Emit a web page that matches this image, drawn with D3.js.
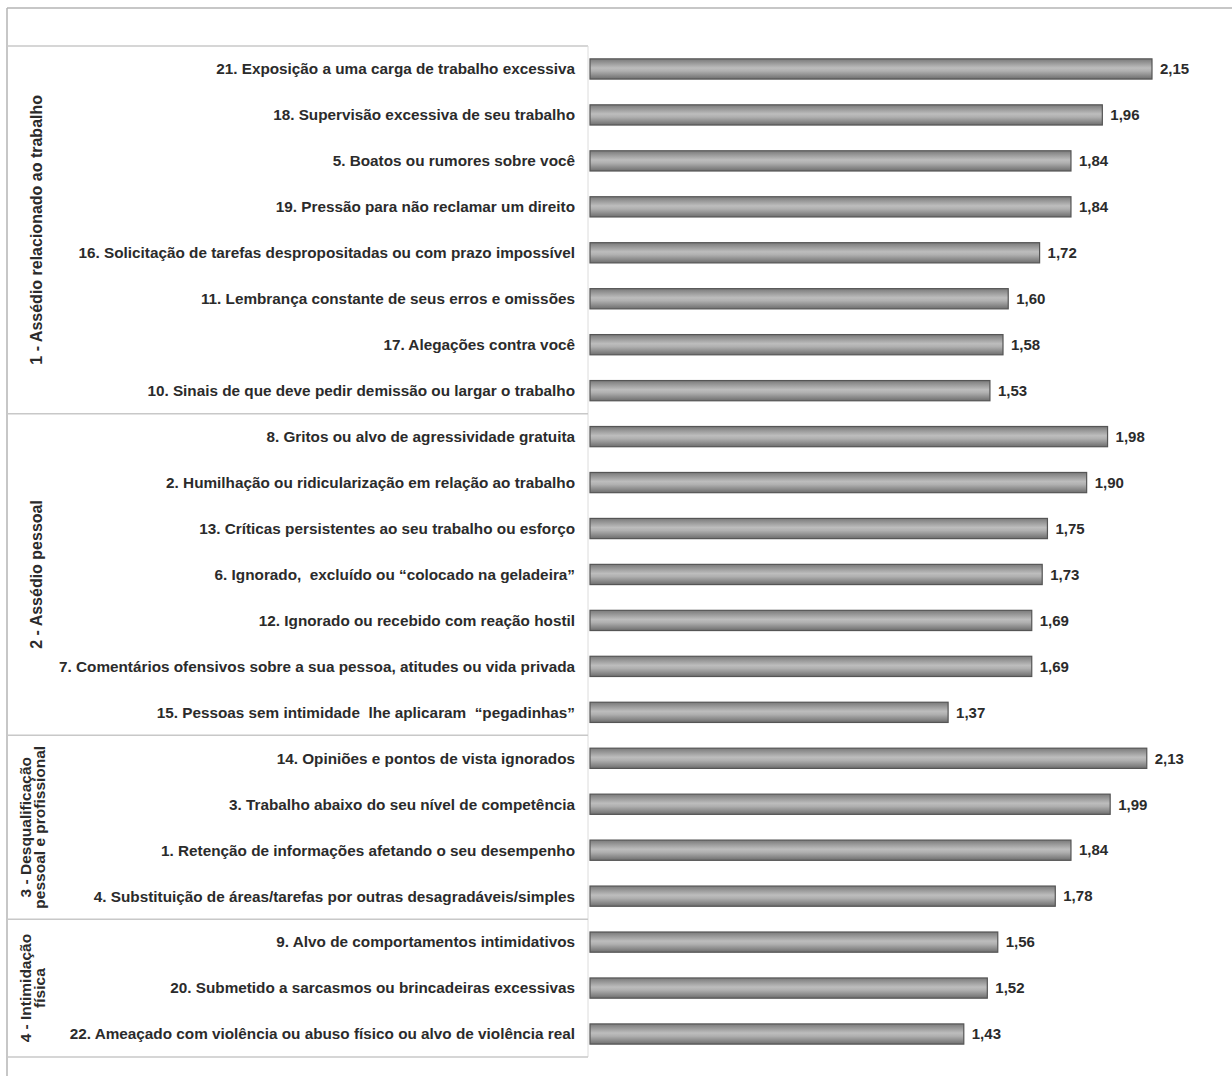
<!DOCTYPE html>
<html>
<head>
<meta charset="utf-8">
<script src="https://cdn.jsdelivr.net/npm/d3@7"></script>
<style>
  body { margin: 0; background: #fff; }
  text { font-family: "Liberation Sans Narrow", "Liberation Sans", Arial, sans-serif; font-weight: bold; fill: #2b2b2b; white-space: pre; }
</style>
</head>
<body>
<div id="chart"></div>
<script>
// itens, valores e grupos
const items = [
  "21. Exposição a uma carga de trabalho excessiva",
  "18. Supervisão excessiva de seu trabalho",
  "5. Boatos ou rumores sobre você",
  "19. Pressão para não reclamar um direito",
  "16. Solicitação de tarefas despropositadas ou com prazo impossível",
  "11. Lembrança constante de seus erros e omissões",
  "17. Alegações contra você",
  "10. Sinais de que deve pedir demissão ou largar o trabalho",
  "8. Gritos ou alvo de agressividade gratuita",
  "2. Humilhação ou ridicularização em relação ao trabalho",
  "13. Críticas persistentes ao seu trabalho ou esforço",
  "6. Ignorado,  excluído ou \u201Ccolocado na geladeira\u201D",
  "12. Ignorado ou recebido com reação hostil",
  "7. Comentários ofensivos sobre a sua pessoa, atitudes ou vida privada",
  "15. Pessoas sem intimidade  lhe aplicaram  \u201Cpegadinhas\u201D",
  "14. Opiniões e pontos de vista ignorados",
  "3. Trabalho abaixo do seu nível de competência",
  "1. Retenção de informações afetando o seu desempenho",
  "4. Substituição de áreas/tarefas por outras desagradáveis/simples",
  "9. Alvo de comportamentos intimidativos",
  "20. Submetido a sarcasmos ou brincadeiras excessivas",
  "22. Ameaçado com violência ou abuso físico ou alvo de violência real"
];
const values = [2.15, 1.96, 1.84, 1.84, 1.72, 1.60, 1.58, 1.53,
                1.98, 1.90, 1.75, 1.73, 1.69, 1.69, 1.37,
                2.13, 1.99, 1.84, 1.78,
                1.56, 1.52, 1.43];
const groupNames = [
  ["1 - Assédio relacionado ao trabalho"],
  ["2 - Assédio pessoal"],
  ["3 - Desqualificação", "pessoal e profissional"],
  ["4 - Intimidação", "física"]
];
const groupSizes = [8, 7, 4, 3];

const W = 1232, H = 1076;
const tableLeft = 7, tableRight = 588, tableTop = 46, tableBottom = 1057;

const svg = d3.select("#chart").append("svg")
  .attr("width", W).attr("height", H);

const defs = svg.append("defs");
const grad = defs.append("linearGradient")
  .attr("id", "barGrad").attr("x1", 0).attr("y1", 0).attr("x2", 0).attr("y2", 1);
grad.append("stop").attr("offset", "0%").attr("stop-color", "#7a7a7a");
grad.append("stop").attr("offset", "45%").attr("stop-color", "#bdbdbd");
grad.append("stop").attr("offset", "60%").attr("stop-color", "#b0b0b0");
grad.append("stop").attr("offset", "100%").attr("stop-color", "#6e6e6e");

const y = d3.scaleBand()
  .domain(d3.range(items.length))
  .range([tableTop, tableBottom])
  .paddingInner(0.56).paddingOuter(0.28);

const x = d3.scaleLinear().domain([0, 2.15]).range([590, 1152]);

// moldura externa
svg.append("line").attr("x1", tableLeft).attr("x2", W).attr("y1", 8).attr("y2", 8)
  .attr("stroke", "#b5b5b5").attr("stroke-width", 1.5);
svg.append("line").attr("x1", tableLeft).attr("x2", tableLeft).attr("y1", 8).attr("y2", H)
  .attr("stroke", "#b5b5b5").attr("stroke-width", 1.5);

// tabela de categorias
const step = (tableBottom - tableTop) / items.length;
let start = 0;
const bounds = groupSizes.map(n => {
  const b = [start, start + n];
  start += n;
  return b;
});

svg.append("line").attr("x1", tableLeft).attr("x2", tableRight).attr("y1", tableTop).attr("y2", tableTop)
  .attr("stroke", "#c8c8c8").attr("stroke-width", 1.5);
svg.append("line").attr("x1", tableRight).attr("x2", tableRight).attr("y1", tableTop).attr("y2", tableBottom)
  .attr("stroke", "#dcdcdc");
svg.selectAll(".sep").data(bounds).enter().append("line")
  .attr("x1", tableLeft).attr("x2", tableRight)
  .attr("y1", d => tableTop + d[1] * step).attr("y2", d => tableTop + d[1] * step)
  .attr("stroke", "#c8c8c8").attr("stroke-width", 1.5);

// rótulos dos grupos
bounds.forEach((b, i) => {
  const cy = tableTop + (b[0] + b[1]) / 2 * step;
  const lines = groupNames[i];
  const two = lines.length > 1;
  const t = svg.append("text")
    .attr("transform", `translate(${two ? 31 : 42},${cy}) rotate(-90)`)
    .attr("text-anchor", "middle")
    .style("font-size", two ? "15.5px" : "16px");
  lines.forEach((l, j) => {
    t.append("tspan").attr("x", 0).attr("dy", j === 0 ? 0 : 13.5).text(l);
  });
});

// rótulos das categorias
svg.selectAll(".cat").data(items).enter().append("text")
  .attr("x", 575)
  .attr("y", (d, i) => y(i) + y.bandwidth() / 2)
  .attr("dy", "0.35em")
  .attr("text-anchor", "end")
  .style("font-size", "15.3px")
  .text(d => d);

// barras
svg.selectAll(".bar").data(values).enter().append("rect")
  .attr("x", x(0))
  .attr("y", (d, i) => y(i))
  .attr("width", d => x(d) - x(0))
  .attr("height", y.bandwidth())
  .attr("fill", "url(#barGrad)")
  .attr("stroke", "#555")
  .attr("stroke-width", 1.2);

// valores
svg.selectAll(".val").data(values).enter().append("text")
  .attr("x", d => x(d) + 8)
  .attr("y", (d, i) => y(i) + y.bandwidth() / 2)
  .attr("dy", "0.35em")
  .style("font-size", "15px")
  .text(d => d.toFixed(2).replace(".", ","));
</script>
</body>
</html>
